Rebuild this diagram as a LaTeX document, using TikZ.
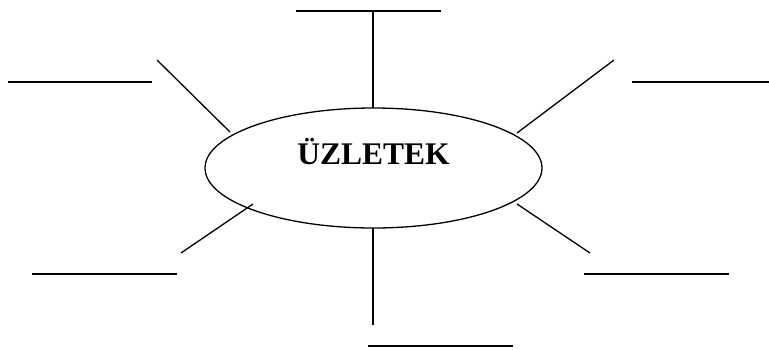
\documentclass[tikz,border=0pt]{standalone}
\usepackage{fontspec}
\setmainfont{Liberation Serif}
\usetikzlibrary{shapes.geometric}
\begin{document}
\begin{tikzpicture}[x=1pt,y=-1pt,
  conn/.style={line width=1.3pt},
  blank/.style={line width=1.3pt}]
\useasboundingbox (0,0) rectangle (769,349);
\draw[line width=1.3pt] (373.5,168) ellipse [x radius=168.5, y radius=60];
\node[inner sep=0pt, anchor=base, font=\bfseries\fontsize{31.5}{32}\selectfont] (title) at (373.5,164) {ÜZLETEK};
% connector ends
\coordinate (tE) at (373,108);  \coordinate (tS) at (373,11);
\coordinate (tlE) at (230,132); \coordinate (tlS) at (157,60);
\coordinate (trE) at (517,133); \coordinate (trS) at (614,60);
\coordinate (blE) at (253,204); \coordinate (blS) at (181,253);
\coordinate (brE) at (517,204); \coordinate (brS) at (590,253);
\coordinate (bE) at (373,228);  \coordinate (bS) at (373,325);
% blank lines
\coordinate (b1a) at (296,11);  \coordinate (b1b) at (441,11);
\coordinate (b2a) at (8,82);    \coordinate (b2b) at (152,82);
\coordinate (b3a) at (632,82);  \coordinate (b3b) at (769,82);
\coordinate (b4a) at (32,274);  \coordinate (b4b) at (177,274);
\coordinate (b5a) at (584,274); \coordinate (b5b) at (729,274);
\coordinate (b6a) at (368,346); \coordinate (b6b) at (513,346);
\foreach \e/\s in {tE/tS,tlE/tlS,trE/trS,blE/blS,brE/brS,bE/bS}
  \draw[conn] (\e) -- (\s);
\foreach \i in {1,...,6}
  \draw[blank] (b\i a) -- (b\i b);
\end{tikzpicture}
\end{document}
